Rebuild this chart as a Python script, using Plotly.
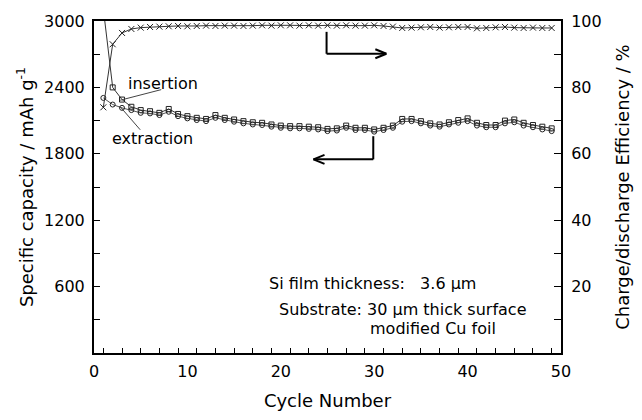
import plotly.graph_objects as go

cycles = list(range(1, 50))

insertion = [3110, 2400, 2290, 2225, 2195, 2185, 2170, 2205, 2160, 2140,
             2125, 2115, 2150, 2125, 2110, 2095, 2085, 2080, 2065, 2055,
             2050, 2050, 2045, 2040, 2025, 2030, 2055, 2035, 2035, 2020,
             2035, 2055, 2115, 2115, 2095, 2075, 2065, 2085, 2105, 2120,
             2080, 2060, 2060, 2100, 2110, 2080, 2060, 2045, 2030]

extraction = [2305, 2245, 2215, 2195, 2170, 2165, 2150, 2180, 2140, 2120,
              2105, 2095, 2125, 2105, 2090, 2075, 2065, 2060, 2045, 2035,
              2030, 2030, 2025, 2020, 2005, 2010, 2035, 2015, 2015, 2000,
              2015, 2035, 2090, 2095, 2075, 2055, 2045, 2065, 2080, 2095,
              2055, 2040, 2040, 2075, 2085, 2055, 2040, 2020, 2005]

efficiency = [74.0, 93.0, 96.4, 97.6, 98.0, 98.2, 98.3, 98.4, 98.5, 98.4,
              98.5, 98.6, 98.5, 98.6, 98.6, 98.5, 98.6, 98.7, 98.6, 98.7,
              98.7, 98.6, 98.7, 98.6, 98.7, 98.6, 98.7, 98.6, 98.6, 98.7,
              98.5, 98.3, 97.9, 98.0, 98.1, 98.2, 98.0, 98.1, 98.2, 98.2,
              97.8, 97.9, 98.1, 98.2, 98.0, 97.9, 98.0, 97.9, 97.9]

x_ticks = [0, 10, 20, 30, 40, 50]
x_minor = list(range(1, 50, 2))
cap_ticks = [600, 1200, 1800, 2400, 3000]
cap_minor = [300, 900, 1500, 2100, 2700]
eff_ticks = [20, 40, 60, 80, 100]
eff_minor = [10, 30, 50, 70, 90]

FONT = "DejaVu Sans, sans-serif"
LC = "#333333"

fig = go.Figure()
fig.add_trace(go.Scatter(x=cycles, y=insertion, mode="lines+markers",
                         line=dict(color=LC, width=1),
                         marker=dict(symbol="square-open", size=5, color="#222",
                                     line=dict(width=1)),
                         name="insertion", yaxis="y"))
fig.add_trace(go.Scatter(x=cycles, y=extraction, mode="lines+markers",
                         line=dict(color="#555", width=1),
                         marker=dict(symbol="circle-open", size=5, color="#222",
                                     line=dict(width=1)),
                         name="extraction", yaxis="y"))
fig.add_trace(go.Scatter(x=cycles, y=efficiency, mode="lines+markers",
                         line=dict(color=LC, width=1),
                         marker=dict(symbol="x-thin-open", size=6, color="#222",
                                     line=dict(width=1)),
                         name="efficiency", yaxis="y2"))

axis_common = dict(showline=True, linecolor="black", linewidth=2,
                   showgrid=False, zeroline=False,
                   tickfont=dict(family=FONT, size=16, color="black"))

fig.update_layout(
    width=642, height=420,
    margin=dict(l=94, r=74, t=17, b=58),
    paper_bgcolor="white", plot_bgcolor="white",
    showlegend=False,
    font=dict(family=FONT, color="black"),
    xaxis=dict(range=[0, 50], tickvals=x_ticks, ticks="", mirror=True,
               ticklabelstandoff=3,
               minor=dict(tickvals=x_minor, ticks="inside", ticklen=5,
                          tickcolor="black", tickwidth=1),
               title=dict(text="Cycle Number", font=dict(family=FONT, size=18),
                          standoff=14),
               **axis_common),
    yaxis=dict(range=[0, 3000], tickvals=cap_ticks, ticks="inside", ticklen=6,
               tickcolor="black", tickwidth=1, ticklabelstandoff=4,
               minor=dict(tickvals=cap_minor, ticks="inside", ticklen=6,
                          tickcolor="black", tickwidth=1),
               title=dict(text="Specific capacity / mAh g<sup>-1</sup>",
                          font=dict(family=FONT, size=18), standoff=6),
               **axis_common),
    yaxis2=dict(range=[0, 100], overlaying="y", side="right",
                tickvals=eff_ticks, ticks="inside", ticklen=7,
                tickcolor="black", tickwidth=1, ticklabelstandoff=5,
                minor=dict(tickvals=eff_minor, ticks="inside", ticklen=7,
                           tickcolor="black", tickwidth=1),
                title=dict(text="Charge/discharge Efficiency / %",
                           font=dict(family=FONT, size=18), standoff=16),
                **axis_common),
)

# annotations: labels
ann_font = dict(family=FONT, size=16, color="black")
fig.add_annotation(x=7.4, y=2437, xref="x", yref="y", text="insertion",
                   showarrow=False, font=ann_font)
fig.add_annotation(x=6.3, y=1939, xref="x", yref="y", text="extraction",
                   showarrow=False, font=ann_font)
fig.add_annotation(x=29.8, y=626, xref="x", yref="y",
                   text="Si film thickness:   3.6 µm",
                   showarrow=False, font=ann_font)
fig.add_annotation(x=33.0, y=394, xref="x", yref="y",
                   text="Substrate: 30 µm thick surface",
                   showarrow=False, font=ann_font)
fig.add_annotation(x=36.3, y=220, xref="x", yref="y",
                   text="modified Cu foil",
                   showarrow=False, font=ann_font)

# leader lines
thin = dict(color="#444", width=1)
fig.add_shape(type="line", xref="x", yref="y", x0=2.8, y0=2284, x1=7.2, y1=2380, line=thin)
fig.add_shape(type="line", xref="x", yref="y", x0=2.8, y0=2226, x1=4.95, y1=2017, line=thin)

# arrows
arr = dict(color="black", width=2)
# right-pointing arrow (efficiency axis)
fig.add_shape(type="line", xref="x", yref="y", x0=24.9, y0=2902, x1=24.9, y1=2704, line=arr)
fig.add_shape(type="line", xref="x", yref="y", x0=24.9, y0=2704, x1=31.3, y1=2704, line=arr)
for s in (1, -1):
    fig.add_shape(type="line", xref="x", yref="y", xsizemode="pixel", ysizemode="pixel",
                  xanchor=31.3, yanchor=2704, x0=0, y0=0, x1=-11, y1=4.5 * s, line=arr)
# left-pointing arrow (capacity axis)
fig.add_shape(type="line", xref="x", yref="y", x0=29.9, y0=1959, x1=29.9, y1=1750, line=arr)
fig.add_shape(type="line", xref="x", yref="y", x0=29.9, y0=1750, x1=23.5, y1=1750, line=arr)
for s in (1, -1):
    fig.add_shape(type="line", xref="x", yref="y", xsizemode="pixel", ysizemode="pixel",
                  xanchor=23.5, yanchor=1750, x0=0, y0=0, x1=11, y1=4.5 * s, line=arr)

fig.write_html("out.html")
